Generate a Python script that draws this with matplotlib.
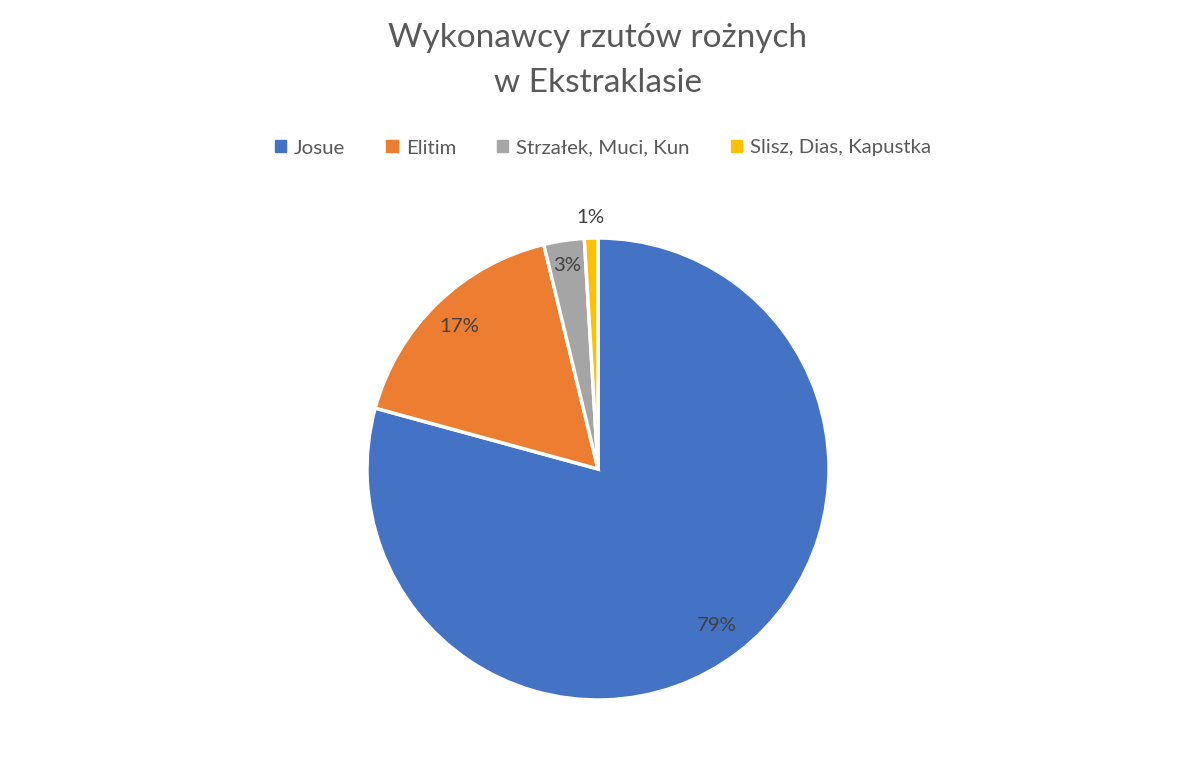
import matplotlib
matplotlib.use("Agg")
import matplotlib.pyplot as plt
import numpy as np

plt.rcParams['font.family'] = ['Lato', 'DejaVu Sans']

categories = ["Josue", "Elitim", "Strzałek, Muci, Kun", "Slisz, Dias, Kapustka"]
values = [84, 18, 3, 1]
pct_labels = ["79%", "17%", "3%", "1%"]
colors = ["#4472C4", "#ED7D31", "#A5A5A5", "#FFC000"]
label_radius = [0.85, 0.86, 0.89, 1.09]

W, H = 1196, 764
fig = plt.figure(figsize=(W/100, H/100), dpi=100)
cx, cy, r = 598, H - 469, 231
ax = fig.add_axes([(cx - r)/W, (cy - r)/H, 2*r/W, 2*r/H])
wedges, _ = ax.pie(values, colors=colors, startangle=90, counterclock=False,
                   radius=1, wedgeprops=dict(edgecolor="white", linewidth=2.5))
ax.set_xlim(-1, 1)
ax.set_ylim(-1, 1)
ax.set_aspect("equal")
ax.axis("off")

for w, lab, lr in zip(wedges, pct_labels, label_radius):
    ang = np.deg2rad((w.theta1 + w.theta2) / 2)
    ax.text(lr*np.cos(ang), lr*np.sin(ang), lab, ha="center", va="center",
            fontsize=14.7, color="#404040")

fig.text(0.5, 1 - 38/H, "Wykonawcy rzutów rożnych", ha="center", va="center",
         fontsize=24, color="#595959")
fig.text(0.5, 1 - 83/H, "w Ekstraklasie", ha="center", va="center",
         fontsize=24, color="#595959")

handles = [plt.Rectangle((0, 0), 1, 1, color=c) for c in colors]
fig.legend(handles, categories, loc="center", bbox_to_anchor=(603/W, 1 - 148/H),
           ncol=4, frameon=False, fontsize=14.7, labelcolor="#595959",
           handlelength=0.55, handleheight=0.55, handletextpad=0.4,
           columnspacing=2.0)

fig.savefig("out.png", dpi=100, facecolor="white")
